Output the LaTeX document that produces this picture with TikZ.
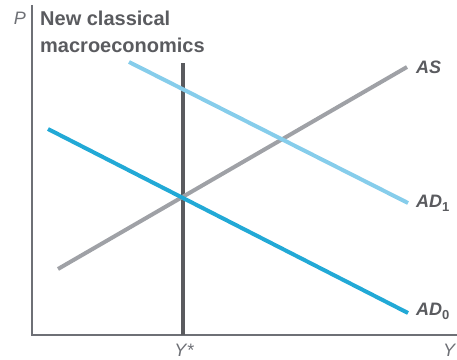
\documentclass[tikz,border=0pt]{standalone}
\usepackage{fontspec}
\setsansfont{Liberation Sans}
\usepackage{tikz}
\usetikzlibrary{positioning,calc}
\definecolor{nclgray}{HTML}{5A5B5F}
\definecolor{nclaxis}{HTML}{6E7076}
\definecolor{nclas}{HTML}{9FA1A6}
\definecolor{nclad}{HTML}{22A9D6}
\definecolor{ncladlight}{HTML}{86CDEB}
\newcommand{\adsub}[1]{{\upshape\fontsize{13}{13}\selectfont\raisebox{-4pt}{#1}}}

\begin{document}
\begin{tikzpicture}[x=1pt, y=1pt, font=\sffamily,
  ax/.style={draw=nclaxis, line width=1.3pt},
  curve/.style={line width=4pt},
  lab/.style={anchor=west, inner sep=0pt, text=nclgray, font=\sffamily\bfseries\itshape\fontsize{18}{18}\selectfont},
  tick/.style={anchor=base, inner sep=0pt, text=nclaxis, font=\sffamily\itshape\fontsize{18}{18}\selectfont}]
\useasboundingbox (0,0) rectangle (457,359);
% axes
\coordinate (o) at (32,24);
\coordinate (ptop) at (32,354);
\coordinate (yend) at (457,24);
\draw[ax] (ptop) -- (o) -- (yend);
% full-employment output
\coordinate (ys0) at (183,24);
\coordinate (ys1) at (183,296);
\draw[draw=nclgray, line width=3.5pt] (ys0) -- (ys1);
% supply and demand
\coordinate (as0) at (58,90);
\coordinate (as1) at (407,292);
\coordinate (adA0) at (129,297);
\coordinate (adA1) at (408,156);
\coordinate (adB0) at (48,230);
\coordinate (adB1) at (408,46);
\draw[curve, draw=nclas] (as0) -- (as1);
\draw[curve, draw=ncladlight] (adA0) -- (adA1);
\draw[curve, draw=nclad] (adB0) -- (adB1);
% labels
\node[lab] (las) at (416,292) {AS};
\node[lab] (lad1) at (416,156) {AD\adsub{1}};
\node[lab] (lad0) at (416,48) {AD\adsub{0}};
\node[tick] (lp) at (20,334) {P};
\node[tick] (lystar) at (184,3) {Y*};
\node[tick] (ly) at (449,3) {Y};
\node[anchor=base west, inner sep=0pt, align=left, text=nclgray,
  font=\sffamily\bfseries\fontsize{20}{27}\selectfont] (title) at (40,306)
  {New classical\\macroeconomics};
\end{tikzpicture}
\end{document}
